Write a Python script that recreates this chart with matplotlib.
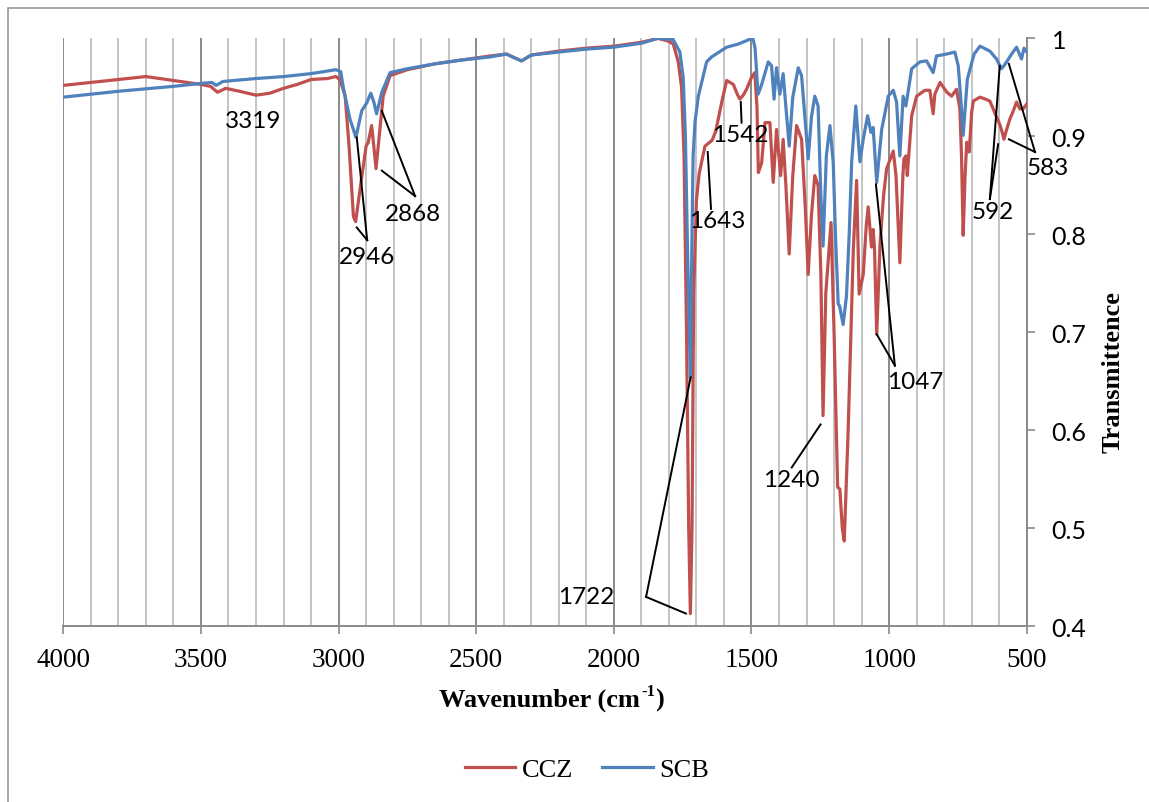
import numpy as np
import matplotlib.pyplot as plt
from matplotlib.patches import Rectangle
from matplotlib.ticker import MultipleLocator, FuncFormatter

# FTIR spectra (wavenumber in cm-1, transmittance)
ccz_wn = [4000, 3900, 3800, 3700, 3600, 3500, 3465, 3440, 3410, 3360, 3300, 3250,
          3200, 3150, 3100, 3040, 3010, 2995, 2976, 2962, 2946, 2938, 2922, 2900,
          2892, 2880, 2872, 2864, 2850, 2838, 2813, 2750, 2650, 2550, 2450, 2390,
          2360, 2335, 2300, 2200, 2100, 2000, 1900, 1840, 1800, 1784, 1766, 1754,
          1745, 1736, 1728, 1722, 1716, 1710, 1700, 1690, 1669, 1643, 1630, 1608,
          1590, 1566, 1550, 1542, 1530, 1518, 1500, 1488, 1480, 1475, 1463, 1451,
          1433, 1421, 1409, 1394, 1385, 1375, 1363, 1350, 1336, 1318, 1305, 1294,
          1282, 1270, 1258, 1248, 1240, 1230, 1211, 1200, 1187, 1179, 1170, 1163,
          1149, 1130, 1118, 1109, 1094, 1083, 1076, 1064, 1058, 1053, 1045, 1033,
          1020, 1009, 985, 975, 961, 950, 946, 939, 934, 918, 900, 870, 852, 840,
          834, 815, 790, 773, 755, 743, 737, 731, 724, 718, 712, 709, 700, 694,
          670, 650, 634, 616, 598, 590, 583, 575, 561, 550, 537, 525, 513, 500]
ccz_t = [0.952, 0.955, 0.958, 0.961, 0.957, 0.953, 0.951, 0.945, 0.949, 0.946, 0.942, 0.944,
         0.949, 0.953, 0.958, 0.959, 0.961, 0.958, 0.941, 0.890, 0.818, 0.813, 0.846, 0.890,
         0.894, 0.911, 0.890, 0.867, 0.907, 0.941, 0.962, 0.968, 0.974, 0.978, 0.982, 0.984,
         0.980, 0.977, 0.983, 0.987, 0.990, 0.992, 0.996, 1.000, 0.997, 0.994, 0.976, 0.950,
         0.880, 0.700, 0.500, 0.413, 0.500, 0.740, 0.835, 0.862, 0.890, 0.896, 0.905, 0.935,
         0.957, 0.953, 0.942, 0.938, 0.942, 0.948, 0.960, 0.965, 0.930, 0.863, 0.873, 0.914,
         0.914, 0.853, 0.907, 0.860, 0.897, 0.850, 0.780, 0.860, 0.911, 0.897, 0.830, 0.759,
         0.820, 0.860, 0.850, 0.760, 0.615, 0.740, 0.812, 0.700, 0.542, 0.540, 0.500, 0.487,
         0.598, 0.785, 0.855, 0.739, 0.759, 0.809, 0.828, 0.787, 0.805, 0.785, 0.698, 0.790,
         0.840, 0.867, 0.885, 0.860, 0.771, 0.860, 0.877, 0.880, 0.860, 0.921, 0.941, 0.947, 0.947, 0.923,
         0.943, 0.955, 0.945, 0.941, 0.948, 0.928, 0.880, 0.799, 0.860, 0.894, 0.886, 0.884, 0.925, 0.936,
         0.940, 0.938, 0.936, 0.924, 0.912, 0.905, 0.897, 0.905, 0.918, 0.925, 0.935, 0.928, 0.928, 0.933]

scb_wn = [4000, 3800, 3600, 3500, 3460, 3445, 3420, 3300, 3200, 3100, 3010, 2992,
          2983, 2959, 2937, 2916, 2898, 2883, 2872, 2862, 2843, 2813, 2750, 2650,
          2550, 2450, 2390, 2360, 2335, 2300, 2200, 2100, 2000, 1900, 1840, 1800,
          1785, 1760, 1748, 1740, 1732, 1722, 1716, 1712, 1705, 1693, 1663, 1645,
          1590, 1550, 1506, 1494, 1487, 1476, 1464, 1439, 1427, 1418, 1409, 1397,
          1385, 1375, 1363, 1350, 1330, 1318, 1306, 1294, 1282, 1270, 1258, 1248,
          1240, 1228, 1215, 1203, 1195, 1185, 1180, 1167, 1155, 1145, 1136, 1121,
          1106, 1094, 1078, 1066, 1058, 1045, 1027, 1003, 985, 973, 961, 949,
          939, 918, 888, 864, 840, 828, 791, 761, 749, 740, 731, 716, 700, 691,
          670, 634, 610, 592, 583, 573, 555, 537, 528, 519, 510, 500]
scb_t = [0.940, 0.946, 0.951, 0.954, 0.955, 0.952, 0.956, 0.959, 0.961, 0.964, 0.968, 0.966,
         0.950, 0.918, 0.899, 0.926, 0.934, 0.944, 0.935, 0.923, 0.945, 0.965, 0.969, 0.974,
         0.978, 0.981, 0.984, 0.980, 0.977, 0.983, 0.986, 0.989, 0.991, 0.995, 1.000, 0.999,
         0.999, 0.986, 0.960, 0.900, 0.780, 0.654, 0.800, 0.880, 0.915, 0.941, 0.976, 0.981,
         0.991, 0.994, 0.999, 0.999, 0.990, 0.943, 0.952, 0.976, 0.972, 0.938, 0.970, 0.943,
         0.964, 0.930, 0.890, 0.940, 0.970, 0.962, 0.920, 0.877, 0.920, 0.941, 0.931, 0.840,
         0.788, 0.880, 0.911, 0.873, 0.800, 0.729, 0.727, 0.708, 0.737, 0.800, 0.874, 0.931,
         0.874, 0.897, 0.921, 0.904, 0.909, 0.853, 0.907, 0.941, 0.947, 0.935, 0.880, 0.941,
         0.931, 0.969, 0.976, 0.977, 0.965, 0.982, 0.984, 0.986, 0.972, 0.940, 0.901, 0.958, 0.975, 0.984,
         0.992, 0.987, 0.979, 0.969, 0.972, 0.976, 0.984, 0.991, 0.985, 0.979, 0.990, 0.986]

# peak labels: text position, line start, line ends
ann_labels = ["3319", "2946", "2868", "1722", "1643", "1542", "1240", "1047", "592", "583"]
ann_text = [(3311, 0.916), (2897, 0.777), (2730, 0.821), (2101, 0.430), (1625, 0.814),
            (1542, 0.902), (1357, 0.550), (906, 0.650), (623, 0.823), (423, 0.868)]
ann_start = [None, (2896, 0.794), (2722, 0.839), (1883, 0.430), (1647, 0.826),
             (1536, 0.914), (1354, 0.562), (979, 0.666), (634, 0.836), (470, 0.884)]
ann_ends = [[], [(2934, 0.899), (2934, 0.807)], [(2843, 0.926), (2843, 0.865)],
            [(1721, 0.654), (1738, 0.413)], [(1659, 0.884)], [(1539, 0.935)],
            [(1249, 0.606)], [(1045, 0.698), (1048, 0.851)],
            [(598, 0.972), (604, 0.892)], [(565, 0.974), (565, 0.897)]]

serif = "Liberation Serif"
sans = "Lato"

fig = plt.figure(figsize=(11.49, 8.03), dpi=100)
ax = fig.add_axes([0.0551, 0.2188, 0.8385, 0.7322])

ax.plot(ccz_wn, ccz_t, color="#C0504D", lw=2.3, label="CCZ", zorder=3)
ax.plot(scb_wn, scb_t, color="#4F81BD", lw=2.3, label="SCB", zorder=3)

ax.set_xlim(4000, 500)
ax.set_ylim(0.4, 1.0)
ax.xaxis.set_major_locator(MultipleLocator(500))
ax.xaxis.set_minor_locator(MultipleLocator(100))
ax.yaxis.set_major_locator(MultipleLocator(0.1))
ax.yaxis.set_major_formatter(FuncFormatter(lambda v, p: f"{v:g}"))
ax.grid(which="major", axis="x", color="#8a8a8a", lw=1.4, zorder=0)
ax.grid(which="minor", axis="x", color="#c4c4c4", lw=1.4, zorder=0)
ax.grid(False, axis="y")

for s in ["top", "left"]:
    ax.spines[s].set_visible(False)
for s in ["bottom", "right"]:
    ax.spines[s].set_color("#8a8a8a")
    ax.spines[s].set_linewidth(1.4)

ax.yaxis.tick_right()
ax.tick_params(axis="y", direction="out", length=6, width=1.2, color="#8a8a8a", pad=12,
               labelsize=18, labelfontfamily=sans)
ax.tick_params(axis="x", which="major", direction="out", length=6, width=1.2,
               color="#8a8a8a", pad=9, labelsize=19.5, labelfontfamily=serif)
ax.tick_params(axis="x", which="minor", length=0)

for lab, txy, st, ends in zip(ann_labels, ann_text, ann_start, ann_ends):
    ax.text(txy[0], txy[1], lab, ha="center", va="center", fontsize=17.5,
            fontfamily=sans, color="black", zorder=5, clip_on=False)
    for e in ends:
        ax.plot([st[0], e[0]], [st[1], e[1]], color="black", lw=1.4, zorder=4,
                clip_on=False)

# axis titles; the superscript is a separate small text so "-1" keeps a hyphen
xt = fig.text(0.4695, 0.128, "Wavenumber (cm", ha="center", va="center",
              fontsize=19, fontweight="bold", fontfamily=serif)
renderer = fig.canvas.get_renderer()
bb = xt.get_window_extent(renderer).transformed(fig.transFigure.inverted())
sup = fig.text(bb.x1 + 0.001, 0.138, "-1", ha="left", va="center",
               fontsize=12, fontweight="bold", fontfamily=serif)
bb2 = sup.get_window_extent(renderer).transformed(fig.transFigure.inverted())
fig.text(bb2.x1, 0.128, ")", ha="left", va="center",
         fontsize=19, fontweight="bold", fontfamily=serif)

fig.text(0.9687, 0.537, "Transmittence", ha="center", va="center", rotation=90,
         fontsize=19, fontweight="bold", fontfamily=serif)

fig.legend(loc="center", bbox_to_anchor=(0.511, 0.041), ncol=2, frameon=False,
           prop={"family": serif, "size": 19}, handlelength=1.9, handletextpad=0.25,
           columnspacing=1.1)

fig.patches.append(Rectangle((8.3 / 1149, -0.05), 1.2, 1 - 9.3 / 803 + 0.05,
                             transform=fig.transFigure, fill=False,
                             edgecolor="#9a9a9a", lw=1.2))

fig.savefig("out.png", dpi=100)
